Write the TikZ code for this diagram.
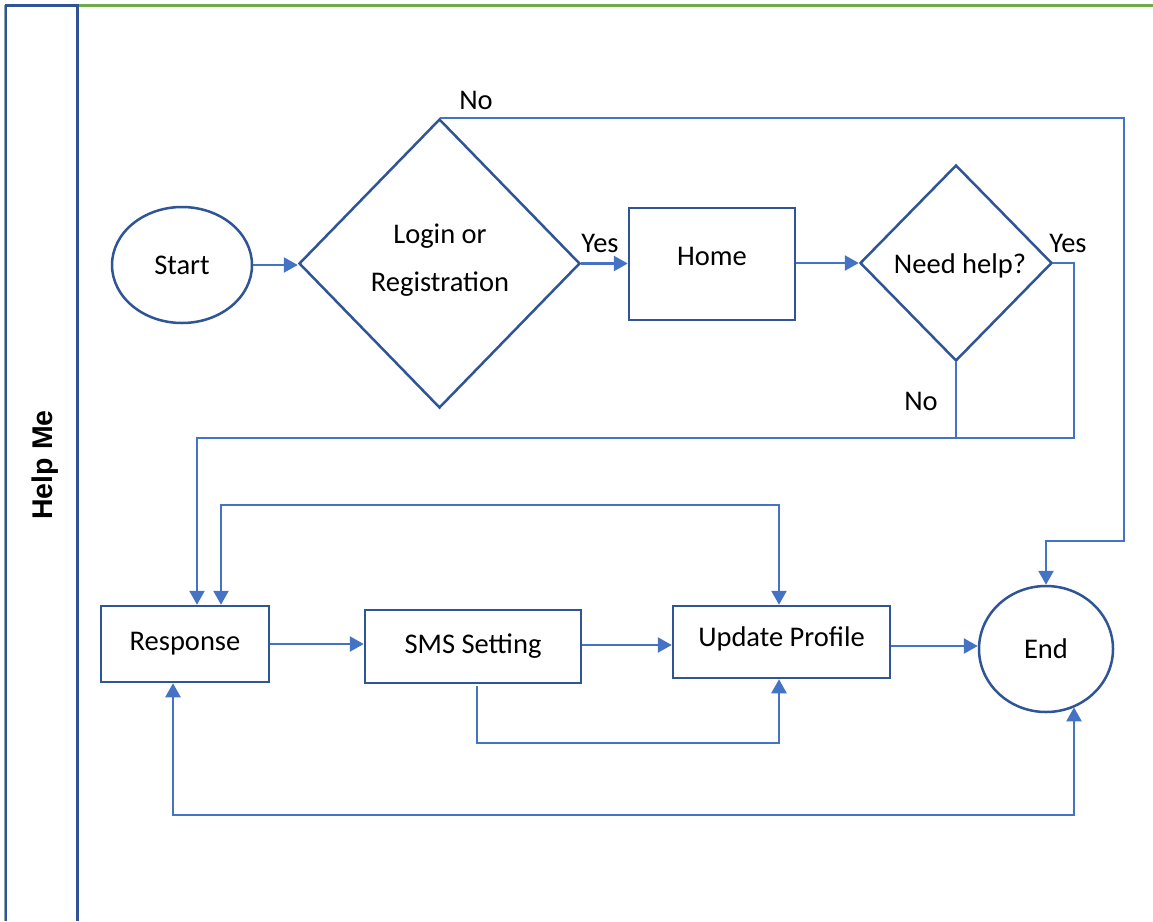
\documentclass[tikz,border=0pt]{standalone}
\usepackage{fontspec}
\setmainfont{Carlito}
\newfontfamily\lanefont{Liberation Sans}
\usetikzlibrary{shapes.geometric,arrows.meta}
\definecolor{outl}{HTML}{2F5597}
\definecolor{conn}{HTML}{4472C4}
\definecolor{lanegreen}{HTML}{70AD47}
\definecolor{lanegrey}{HTML}{8AA5A5}
\begin{document}
\begin{tikzpicture}[x=1pt,y=-1pt,
  every node/.style={font=\fontsize{28.5}{36}\selectfont, text=black},
  shp/.style={draw=outl, line width=2.5pt, inner sep=0pt},
  boxnode/.style={shp, rectangle},
  ellnode/.style={shp, ellipse},
  dianode/.style={shp, diamond},
  tip/.tip={Triangle[length=14pt,width=15pt]},
  flow/.style={draw=conn, line width=2.5pt, -tip},
  biflow/.style={draw=conn, line width=2.5pt, tip-tip},
  link/.style={draw=conn, line width=2.5pt},
  lbl/.style={inner sep=0pt}
]
\useasboundingbox (0,0) rectangle (1153,921);
\fill[white] (0,0) rectangle (1153,921);

% swimlane
\draw[lanegrey, line width=1pt] (4.3,5) -- (4.3,921);
\draw[outl, line width=2.8pt] (6,921) -- (6,5.3) -- (77.3,5.3) -- (77.3,921);
\draw[lanegreen, line width=2.8pt] (78.5,5.3) -- (1153,5.3);
\node[rotate=90, font=\lanefont\bfseries\fontsize{28.5}{34}\selectfont] (lane) at (45,465) {Help Me};

% shapes
\node[ellnode, minimum width=140pt, minimum height=116pt] (start) at (182,265) {Start};
\node[dianode, minimum width=281pt, minimum height=289pt] (login) at (439.5,263.5) {};
\node[lbl, align=center, font=\fontsize{28.5}{48}\selectfont] (logintxt) at (440,260) {Login or\\Registration};
\node[boxnode, minimum width=166pt, minimum height=112pt] (home) at (712,264) {};
\node[lbl] (hometxt) at (712,256) {Home};
\node[dianode, minimum width=192pt, minimum height=196pt] (help) at (956,263) {};
\node[lbl] (helptxt) at (960,266) {Need help?};
\node[boxnode, minimum width=168pt, minimum height=76pt] (resp) at (185,644) {Response};
\node[boxnode, minimum width=216pt, minimum height=73pt] (sms) at (473,646.5) {SMS Setting};
\node[boxnode, minimum width=217pt, minimum height=72pt] (upd) at (781.5,642) {};
\node[lbl] (updtxt) at (781.5,639) {Update Profile};
\node[ellnode, minimum width=134pt, minimum height=126pt] (end) at (1046,649) {End};

% helper coordinates
\coordinate (rr) at (1124,541);
\coordinate (ybend) at (1074,438);
\coordinate (top2) at (500,505);
\coordinate (bb) at (600,743);
\coordinate (bl) at (600,815);

% connectors
\draw[flow] (start.east) -- (start.east -| login.west);
\draw[flow] (login.east) -- (login.east -| home.west);
\draw[flow] (home.east |- help.west) -- (help.west);
\draw[flow] (login.north) -| (rr) -| (end.north);
\draw[flow] (help.east) -| (ybend) -| ([xshift=12pt]resp.north);
\draw[link] (help.south) -- (help.south |- ybend);
\draw[biflow] ([xshift=36pt]resp.north) |- (top2) -| ([xshift=-2.5pt]upd.north);
\draw[flow] (resp.east) -- (resp.east -| sms.west);
\draw[flow] ([yshift=1.5pt]sms.east) -- ([yshift=1.5pt]sms.east -| upd.west);
\draw[flow] ([xshift=4pt,yshift=-2pt]sms.south) |- (bb) -| ([xshift=-2.5pt]upd.south);
\draw[flow] ([yshift=-4pt]upd.east) -- ([yshift=-4pt]upd.east -| end.west);
\draw[biflow] ([xshift=-12pt]resp.south) |- (bl) -| (end.-64 -| ybend);

% labels
\node[lbl] (noA) at (476,100) {No};
\node[lbl] (yesA) at (600,243) {Yes};
\node[lbl] (yesB) at (1068,243) {Yes};
\node[lbl] (noB) at (921,401) {No};
\end{tikzpicture}
\end{document}
